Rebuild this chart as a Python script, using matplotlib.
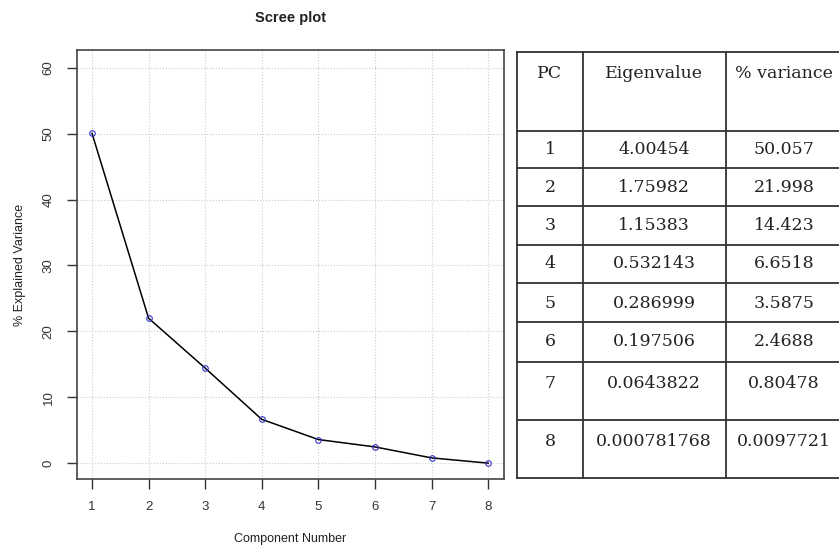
import matplotlib.pyplot as plt

pcs = [1, 2, 3, 4, 5, 6, 7, 8]
eigenvalues = ["4.00454", "1.75982", "1.15383", "0.532143", "0.286999",
               "0.197506", "0.0643822", "0.000781768"]
variance_txt = ["50.057", "21.998", "14.423", "6.6518", "3.5875",
                "2.4688", "0.80478", "0.0097721"]
variance = [float(v) for v in variance_txt]
headers = ["PC", "Eigenvalue", "% variance"]

plt.rcParams["font.family"] = ["Liberation Sans", "DejaVu Sans"]

W, H = 839, 554
fig = plt.figure(figsize=(W / 100, H / 100), dpi=100)

# scree plot, R-ish look
ax = fig.add_axes([77 / W, 1 - 479 / H, (504 - 77) / W, (479 - 50) / H])
ax.plot(pcs, variance, color="black", lw=1.1, zorder=3)
ax.plot(pcs, variance, "o", mfc="none", mec="#3333cc", ms=4, mew=0.8, zorder=4)
ax.set_xlim(0.735, 8.28)
ax.set_ylim(-2.4, 62.7)
ax.set_xticks(pcs)
ax.set_yticks([0, 10, 20, 30, 40, 50, 60])
ax.grid(True, color="#cccccc", ls=":", lw=0.8)
ax.tick_params(direction="out", length=7, width=1, labelsize=9.5, colors="#333333", pad=9)
for lab in ax.get_yticklabels():
    lab.set_rotation(90)
    lab.set_va("center")
for s in ax.spines.values():
    s.set_color("#444444")
    s.set_linewidth(1.2)
ax.set_title("Scree plot", fontweight="bold", fontsize=10.5, pad=20, color="#222222")
ax.set_xlabel("Component Number", fontsize=9, labelpad=14, color="#222222")
ax.set_ylabel("% Explained Variance", fontsize=9, labelpad=12, color="#222222")

# table, drawn in pixel coordinates
tab = fig.add_axes([0, 0, 1, 1], facecolor="none")
tab.set_xlim(0, W)
tab.set_ylim(H, 0)
tab.axis("off")

col_edges = [517, 583, 726, 900]
row_edges = [52, 131, 168, 206, 245, 283, 322, 362, 420, 478]
text_y = [73, 150, 187, 226, 264, 303, 342, 383, 441]
col_mid = [550, 654, 784]
lc = "#333333"
for y in row_edges:
    tab.plot([col_edges[0], col_edges[-1]], [y, y], color=lc, lw=1.3)
for x in col_edges[:-1]:
    tab.plot([x, x], [row_edges[0], row_edges[-1]], color=lc, lw=1.3)

font = dict(family="DejaVu Serif", fontsize=12.5, ha="center", va="center", color="#222222")
for j, h in enumerate(headers):
    tab.text(col_mid[j], text_y[0], h, **font)
for i in range(len(pcs)):
    row = [str(pcs[i]), eigenvalues[i], variance_txt[i]]
    for j, t in enumerate(row):
        tab.text(col_mid[j], text_y[i + 1], t, **font)

fig.savefig("out.png", dpi=100)
